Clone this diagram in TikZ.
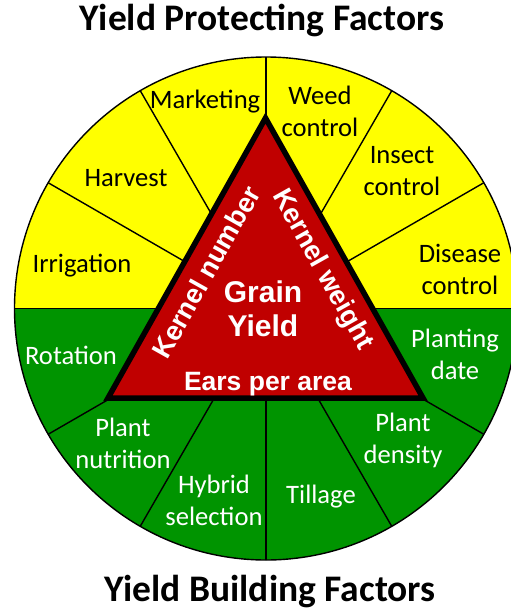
\documentclass[tikz,border=0pt]{standalone}
\usepackage{fontspec}
\setmainfont{Carlito}
\newfontfamily\arialfont{Liberation Sans}
\definecolor{yel}{RGB}{255,255,0}
\definecolor{grn}{RGB}{0,148,0}
\definecolor{tred}{RGB}{192,0,0}
\newcommand\twolines[2]{\strut #1\\\strut #2}
\tikzset{
  lab/.style={font=\fontsize{26.6}{32}\selectfont, align=center, inner sep=0pt},
  blab/.style={lab, text=black},
  wlab/.style={lab, text=white},
  title/.style={font=\fontsize{37.5}{44}\selectfont\bfseries, inner sep=0pt, anchor=base},
  tri/.style={text=white, inner sep=0pt},
  divline/.style={draw=black, line width=1.4pt},
}
\begin{document}
\begin{tikzpicture}[x=1pt,y=-1pt]
\useasboundingbox (0,0) rectangle (511,611);
\clip (0,0) rectangle (511,611);
\coordinate (c) at (266,308.5);
\def\R{251.5}
% half discs
\fill[yel] (c) ++(-\R,0) arc[start angle=180,end angle=360,radius=\R] -- cycle;
\fill[grn] (c) ++(\R,0) arc[start angle=0,end angle=180,radius=\R] -- cycle;
% radial dividers
\foreach \a in {0,30,...,330} \draw[divline] (c) -- ++(\a:\R);
\draw[divline] (c) circle[radius=\R];
% triangle
\coordinate (ta) at (265.5,118);
\coordinate (tl) at (108,398);
\coordinate (tr) at (423,398);
\draw[line width=5.5pt, line join=miter, fill=tred] (ta) -- (tl) -- (tr) -- cycle;
% titles
\node[title] (t1) at (262,30) {Yield Protecting Factors};
\node[title] (t2) at (270,601) {Yield Building Factors};
% yellow labels
\node[blab, anchor=base] (mk) at (205,108) {Marketing};
\node[blab] (wc) at (320,114.1) {\twolines{Weed}{control}};
\node[blab, anchor=base] (hv) at (126,186) {Harvest};
\node[blab] (ic) at (402,172.6) {\twolines{Insect}{control}};
\node[blab, anchor=base] (ir) at (82,272) {Irrigation};
\node[blab] (dc) at (460,271.6) {\twolines{Disease}{control}};
% green labels
\node[wlab, anchor=base] (ro) at (71,364) {Rotation};
\node[wlab] (pd) at (455,356.6) {\twolines{Planting}{date}};
\node[wlab] (pn) at (123,446.1) {\twolines{Plant}{nutrition}};
\node[wlab] (pde) at (403,441.1) {\twolines{Plant}{density}};
\node[wlab] (hs) at (214,502.6) {\twolines{Hybrid}{selection}};
\node[wlab, anchor=base] (ti) at (321,503) {Tillage};
% triangle texts
\node[tri, font=\arialfont\bfseries\fontsize{30}{34}\selectfont, align=center] (gy) at (263,312.2) {\strut Grain\\\strut Yield};
\node[tri, font=\arialfont\bfseries\fontsize{26.5}{30}\selectfont, anchor=base] (ep) at (268,390) {Ears per area};
\node[tri, font=\arialfont\bfseries\fontsize{27.3}{30}\selectfont, rotate=60.7] (kn) at (206,272) {Kernel number};
\node[tri, font=\arialfont\bfseries\fontsize{27.3}{30}\selectfont, rotate=-60.7] (kw) at (322,270) {Kernel weight};
\end{tikzpicture}
\end{document}
